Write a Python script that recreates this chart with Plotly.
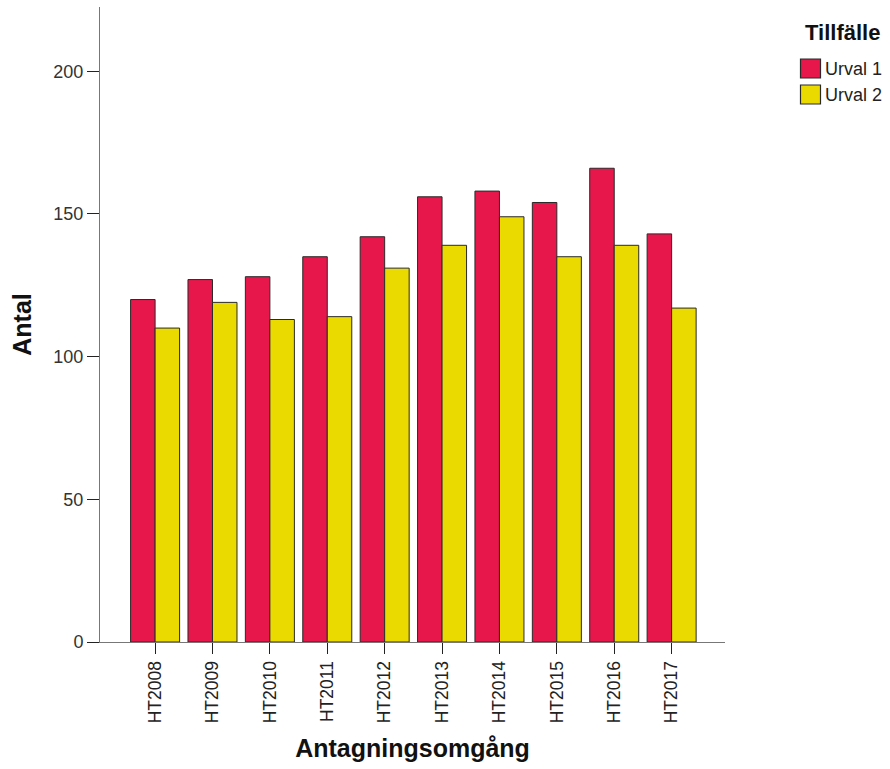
import plotly.graph_objects as go

categories = ["HT2008", "HT2009", "HT2010", "HT2011", "HT2012",
              "HT2013", "HT2014", "HT2015", "HT2016", "HT2017"]
series_names = ["Urval 1", "Urval 2"]
urval1 = [120, 127, 128, 135, 142, 156, 158, 154, 166, 143]
urval2 = [110, 119, 113, 114, 131, 139, 149, 135, 139, 117]
y_ticks = [0, 50, 100, 150, 200]

FONT = "Liberation Sans, Arial, sans-serif"
COLORS = ["#E8174B", "#EBDA00"]
OUTLINE = "#2a2a2a"

fig = go.Figure()
for name, vals, col in zip(series_names, [urval1, urval2], COLORS):
    fig.add_trace(go.Bar(name=name, x=categories, y=vals,
                         marker=dict(color=col, line=dict(color=OUTLINE, width=1))))

# plot area in pixels: x 100..725, y 7..642
L, R, T, B = 100, 725, 7, 642
def px(x):
    return (x - L) / (R - L)
def py(y):
    return (B - y) / (B - T)

fig.update_layout(
    width=890, height=769,
    barmode="group", bargap=0.146, bargroupgap=0,
    plot_bgcolor="white", paper_bgcolor="white",
    margin=dict(l=L, r=890 - R, t=T, b=769 - B, autoexpand=False),
    font=dict(family=FONT, color="#222222", size=18),
    showlegend=False,
)

# manual legend
fig.add_annotation(xref="paper", yref="paper", x=px(803), y=py(33),
                   xanchor="left", yanchor="middle", showarrow=False,
                   text="<b>Tillfälle</b>",
                   font=dict(size=22, family=FONT, color="#111111"))
sq_tops = [59, 85]
for name, col, top in zip(series_names, COLORS, sq_tops):
    fig.add_shape(type="rect", xref="paper", yref="paper",
                  x0=px(800.5), x1=px(820.5), y0=py(top), y1=py(top + 19),
                  fillcolor=col, line=dict(color=OUTLINE, width=1.2))
    fig.add_annotation(xref="paper", yref="paper", x=px(823), y=py(top + 10),
                       xanchor="left", yanchor="middle", showarrow=False,
                       text=name, font=dict(size=18, family=FONT, color="#222222"))

fig.update_xaxes(
    type="category",
    range=[-0.96, 9.93],
    showline=True, linecolor="#777777", linewidth=1,
    ticks="outside", ticklen=11, tickcolor="#222222",
    tickangle=-90,
    tickfont=dict(size=17.5, family=FONT, color="#222222"),
    title=dict(text="<b>Antagningsomgång</b>", font=dict(size=25, family=FONT, color="#111111"), standoff=17),
    showgrid=False, zeroline=False,
)
fig.update_yaxes(
    range=[0, 222.5],
    tickvals=y_ticks,
    showline=True, linecolor="#777777", linewidth=1,
    ticks="outside", ticklen=12, tickcolor="#222222",
    tickfont=dict(size=18, family=FONT, color="#333333"),
    title=dict(text="<b>Antal</b>", font=dict(size=25, family=FONT, color="#111111"), standoff=14),
    showgrid=False, zeroline=False,
)

fig.write_html("out.html", config={"displayModeBar": False},
               post_script="document.body.style.margin='0px';")
